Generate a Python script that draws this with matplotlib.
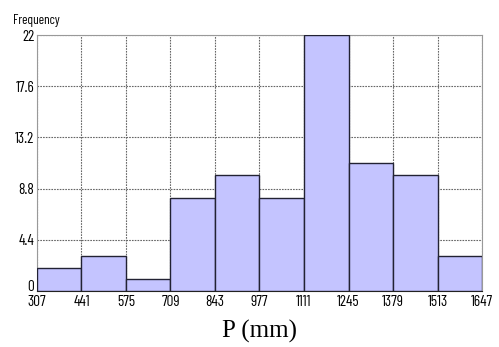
# Histogram of P (mm)
import numpy as np
import matplotlib.pyplot as plt

# Data
bin_edges = [307, 441, 575, 709, 843, 977, 1111, 1245, 1379, 1513, 1647]
counts = [2, 3, 1, 8, 10, 8, 22, 11, 10, 3]
y_ticks = [0, 4.4, 8.8, 13.2, 17.6, 22]
y_tick_labels = ['0', '4.4', '8.8', '13.2', '17.6', '22']

tick_font = ['Barlow Condensed', 'DejaVu Sans']

fig = plt.figure(figsize=(4.99, 3.47), dpi=100)
ax = fig.add_axes([0.074, 0.161, 0.892, 0.738])

lefts = np.array(bin_edges[:-1])
widths = np.diff(bin_edges)
ax.bar(lefts, counts, width=widths, align='edge', color='#c4c4ff',
       edgecolor='#222233', linewidth=1.0, zorder=3)

ax.set_xlim(bin_edges[0], bin_edges[-1])
ax.set_ylim(0, 22)
ax.set_xticks(bin_edges)
ax.set_xticklabels([str(e) for e in bin_edges], family=tick_font, fontsize=11)
ax.set_yticks(y_ticks)
ax.set_yticklabels(y_tick_labels, family=tick_font, fontsize=11)
ax.tick_params(axis='x', length=0, pad=2.5)
ax.tick_params(axis='y', length=0, pad=2)
# the "0" sits on the axis line, like the reference
ax.get_yticklabels()[0].set_va('baseline')

ax.grid(True, linestyle=(0, (1.5, 1)), color='#666666', linewidth=0.8, zorder=0)
for s in ['top', 'right', 'left']:
    ax.spines[s].set_color('#999999')
ax.spines['bottom'].set_color('#222222')

fig.text(0.027, 0.931, 'Frequency', family=tick_font, fontsize=9.5, ha='left', va='baseline')
fig.text(0.52, 0.027, 'P (mm)', family='Liberation Serif', fontsize=18, ha='center', va='baseline')

plt.savefig('out.png', dpi=100)
